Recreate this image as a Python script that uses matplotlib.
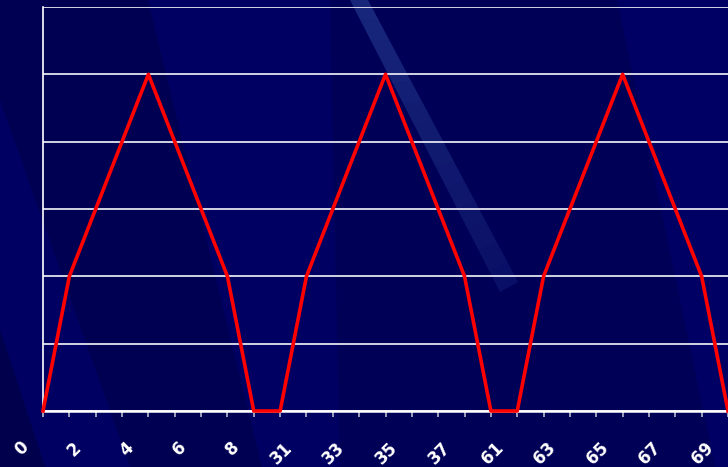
import matplotlib
matplotlib.use("Agg")
import matplotlib.pyplot as plt
import numpy as np
from matplotlib.patches import Polygon
from matplotlib.transforms import ScaledTranslation

# categories along the x axis (only every other one gets a label)
categories = [0, 1, 2, 3, 4, 5, 6, 7, 8,
              30, 31, 32, 33, 34, 35, 36, 37, 38,
              61, 62, 63, 64, 65, 66, 67, 68, 69]
values = [0, 2, 3, 4, 5, 4, 3, 2, 0,
          0, 2, 3, 4, 5, 4, 3, 2, 0,
          0, 2, 3, 4, 5, 4, 3, 2, 0]
label_indices = list(range(0, 27, 2))

W, H = 728, 467
fig = plt.figure(figsize=(W / 100, H / 100), dpi=100)
fig.patch.set_facecolor("#00005c")

# background shapes, drawn in pixel coordinates
bg = fig.add_axes([0, 0, 1, 1], zorder=-1)
bg.set_xlim(0, W)
bg.set_ylim(H, 0)
bg.axis("off")
bg.add_patch(Polygon([(0, 0), (148, 0), (262, 467), (0, 467)], color="#000052", lw=0))
bg.add_patch(Polygon([(0, 100), (130, 467), (45, 467), (0, 330)], color="#000062", lw=0))
bg.add_patch(Polygon([(0, 330), (45, 467), (0, 467)], color="#00004c", lw=0))
bg.add_patch(Polygon([(148, 0), (330, 0), (340, 467), (262, 467)], color="#000062", lw=0))
bg.add_patch(Polygon([(617, 0), (728, 0), (728, 467), (715, 467)], color="#000064", lw=0))
bg.add_patch(Polygon([(330, 0), (617, 0), (715, 467), (340, 467)], color="#000057", lw=0))

# light diagonal streak, fading toward its lower end
top_l, top_r = np.array([350.0, 0.0]), np.array([368.0, 0.0])
bot_l, bot_r = np.array([500.0, 292.0]), np.array([518.0, 282.0])
n = 14
for i in range(n):
    t0, t1 = i / n, (i + 1) / n
    pts = [top_l + (bot_l - top_l) * t0, top_r + (bot_r - top_r) * t0,
           top_r + (bot_r - top_r) * t1, top_l + (bot_l - top_l) * t1]
    bg.add_patch(Polygon(pts, color="#4a78c8", alpha=0.32 - 0.2 * t0, lw=0))

ax = fig.add_axes([43 / W, 1 - 411 / H, (W - 43) / W, (411 - 7) / H])
ax.patch.set_alpha(0)

x = np.arange(len(categories))
ax.plot(x, values, color="#ff0000", lw=2.6, zorder=5, clip_on=False)

ax.set_xlim(0, len(categories) - 1)
ax.set_ylim(0, 6)
ax.set_yticks(range(0, 7))
ax.yaxis.grid(True, color="#e4e4f0", lw=1.3)
ax.set_axisbelow(True)
ax.tick_params(axis="y", left=False, labelleft=False)

ax.set_xticks(x)
ax.set_xticklabels([str(c) if i in label_indices else "" for i, c in enumerate(categories)])
ax.tick_params(axis="x", direction="out", length=4.3, width=1.1, color="#c8c8d8",
               pad=20, labelcolor="white", labelsize=12)
offset = ScaledTranslation(-0.17, 0, fig.dpi_scale_trans)
for lab in ax.get_xticklabels():
    lab.set_rotation(45)
    lab.set_ha("right")
    lab.set_va("center")
    lab.set_rotation_mode("anchor")
    lab.set_fontweight("bold")
    lab.set_transform(lab.get_transform() + offset)

for side in ["top", "right"]:
    ax.spines[side].set_visible(False)
ax.spines["left"].set_color("white")
ax.spines["left"].set_linewidth(1.2)
ax.spines["bottom"].set_color("white")
ax.spines["bottom"].set_linewidth(1.8)

fig.savefig("out.png", dpi=100, facecolor=fig.get_facecolor())
